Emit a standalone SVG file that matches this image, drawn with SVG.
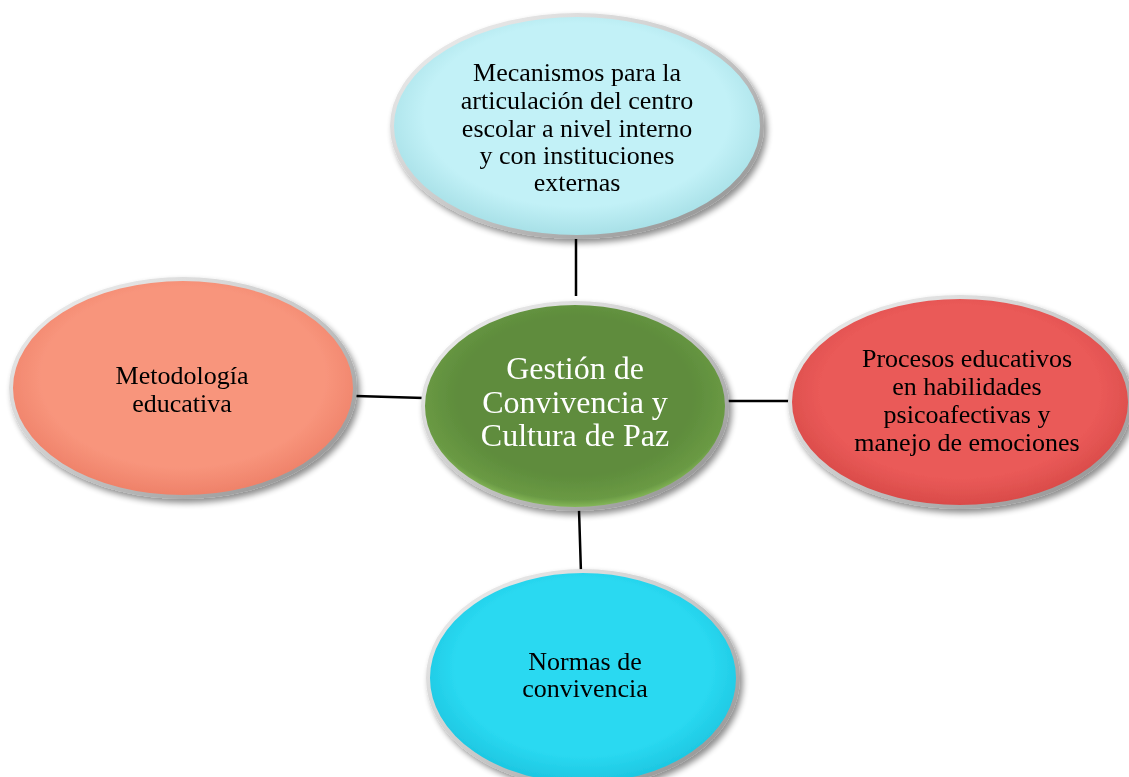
<svg xmlns="http://www.w3.org/2000/svg" width="1129" height="777" viewBox="0 0 1129 777">
<style>
  .lbl{font-family:"Liberation Serif","Times New Roman",serif;font-size:26px;fill:#000;text-anchor:middle}
  .ctr{font-family:"Liberation Serif","Times New Roman",serif;font-size:32px;fill:#fff;text-anchor:middle}
  .ring{fill:none;stroke:url(#ringG);stroke-width:4}
  .edge{stroke:#000;stroke-width:2.5;fill:none}
</style>
<defs>
  <filter id="sh" x="-10%" y="-10%" width="125%" height="130%">
    <feGaussianBlur in="SourceAlpha" stdDeviation="3"/>
    <feOffset dx="3" dy="4" result="b"/>
    <feComponentTransfer><feFuncA type="linear" slope="0.45"/></feComponentTransfer>
    <feMerge><feMergeNode/><feMergeNode in="SourceGraphic"/></feMerge>
  </filter>
  <linearGradient id="ringG" x1="0" y1="0" x2="1" y2="1">
    <stop offset="0" stop-color="#f2f2f2"/>
    <stop offset="0.5" stop-color="#c9c9c9"/>
    <stop offset="1" stop-color="#8a8a8a"/>
  </linearGradient>
  <radialGradient id="gTop" cx="0.5" cy="0.45" r="0.55">
    <stop offset="0.75" stop-color="#c2f1f7"/>
    <stop offset="1" stop-color="#a6dfe6"/>
  </radialGradient>
  <radialGradient id="gCtr" cx="0.5" cy="0.45" r="0.55">
    <stop offset="0.7" stop-color="#5e8c3c"/>
    <stop offset="0.92" stop-color="#6a9a44"/>
    <stop offset="1" stop-color="#8cbf5e"/>
  </radialGradient>
  <radialGradient id="gLeft" cx="0.5" cy="0.45" r="0.55">
    <stop offset="0.75" stop-color="#f8957c"/>
    <stop offset="1" stop-color="#ee8068"/>
  </radialGradient>
  <radialGradient id="gRight" cx="0.5" cy="0.45" r="0.55">
    <stop offset="0.75" stop-color="#ea5a58"/>
    <stop offset="1" stop-color="#d84a48"/>
  </radialGradient>
  <radialGradient id="gBot" cx="0.5" cy="0.45" r="0.55">
    <stop offset="0.75" stop-color="#2ad9f1"/>
    <stop offset="1" stop-color="#1cc5e0"/>
  </radialGradient>
</defs>
<rect width="1129" height="777" fill="#fff"/>
<g id="connectors">
  <line class="edge" x1="576" y1="238" x2="576" y2="296"/>
  <line class="edge" x1="356" y1="396" x2="424" y2="398"/>
  <line class="edge" x1="727" y1="401" x2="790" y2="401"/>
  <line class="edge" x1="579" y1="510" x2="581" y2="573"/>
</g>
<g id="node-top" filter="url(#sh)">
  <ellipse cx="577" cy="126" rx="185" ry="111" fill="url(#gTop)"/>
  <ellipse class="ring" cx="577" cy="126" rx="185" ry="111"/>
  <text class="lbl" x="577" y="81">Mecanismos para la</text>
  <text class="lbl" x="577" y="109">articulación del centro</text>
  <text class="lbl" x="577" y="137">escolar a nivel interno</text>
  <text class="lbl" x="577" y="164">y con instituciones</text>
  <text class="lbl" x="577" y="191">externas</text>
</g>
<g id="node-left" filter="url(#sh)">
  <ellipse cx="183" cy="388" rx="172" ry="109" fill="url(#gLeft)"/>
  <ellipse class="ring" cx="183" cy="388" rx="172" ry="109"/>
  <text class="lbl" x="182" y="384">Metodología</text>
  <text class="lbl" x="182" y="412">educativa</text>
</g>
<g id="node-right" filter="url(#sh)">
  <ellipse cx="960" cy="402" rx="170" ry="105" fill="url(#gRight)"/>
  <ellipse class="ring" cx="960" cy="402" rx="170" ry="105"/>
  <text class="lbl" x="967" y="367">Procesos educativos</text>
  <text class="lbl" x="967" y="395">en habilidades</text>
  <text class="lbl" x="967" y="423">psicoafectivas y</text>
  <text class="lbl" x="967" y="451">manejo de emociones</text>
</g>
<g id="node-bottom" filter="url(#sh)">
  <ellipse cx="583" cy="678" rx="155" ry="107" fill="url(#gBot)"/>
  <ellipse class="ring" cx="583" cy="678" rx="155" ry="107"/>
  <text class="lbl" x="585" y="670">Normas de</text>
  <text class="lbl" x="585" y="697">convivencia</text>
</g>
<g id="node-center" filter="url(#sh)">
  <ellipse cx="575" cy="406" rx="152" ry="103" fill="url(#gCtr)"/>
  <ellipse class="ring" cx="575" cy="406" rx="152" ry="103"/>
  <text class="ctr" x="575" y="379">Gestión de</text>
  <text class="ctr" x="575" y="413">Convivencia y</text>
  <text class="ctr" x="575" y="446">Cultura de Paz</text>
</g>
</svg>
